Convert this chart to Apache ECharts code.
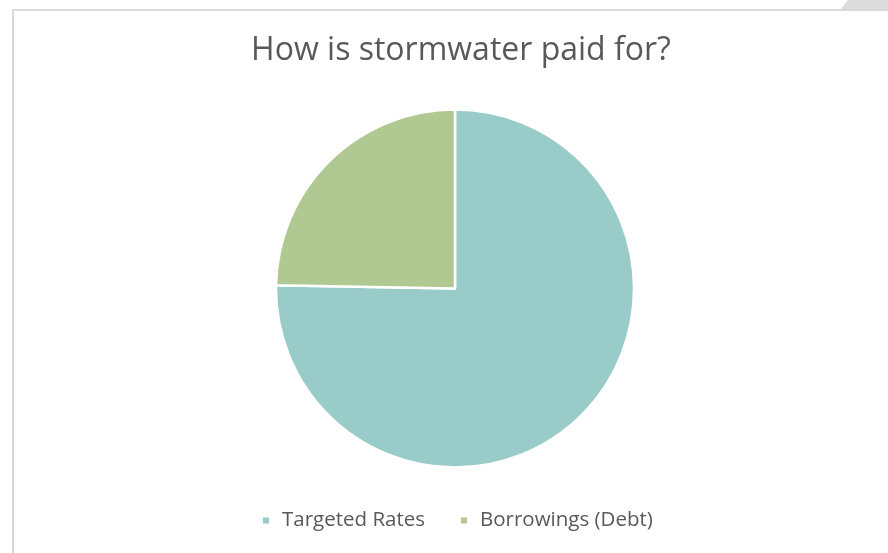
<!DOCTYPE html>
<html>
<head>
<meta charset="utf-8">
<script src="https://cdn.jsdelivr.net/npm/echarts@6/dist/echarts.min.js"></script>
<style>
  html, body { margin: 0; padding: 0; background: #fff; }
  #chart { width: 888px; height: 553px; }
</style>
</head>
<body>
<div id="chart"></div>
<script>
// Funding sources for stormwater (share of total)
const categories = ['Targeted Rates', 'Borrowings (Debt)'];
const shares = [75.3, 24.7];
const colors = ['#99CCC8', '#B0C891'];

const chart = echarts.init(document.getElementById('chart'), null, { renderer: 'canvas' });

chart.setOption({
  backgroundColor: '#ffffff',
  animation: false,
  title: {
    text: 'How is stormwater paid for?',
    left: 456,
    top: 30,
    textAlign: 'center',
    textStyle: {
      fontFamily: 'Open Sans',
      fontWeight: 'normal',
      fontSize: 32,
      color: '#595959'
    }
  },
  legend: {
    data: categories,
    top: 510,
    left: 261,
    padding: 0,
    itemWidth: 8,
    itemHeight: 8,
    itemGap: 34,
    icon: 'rect',
    textStyle: {
      fontFamily: 'Open Sans',
      fontSize: 20.5,
      color: '#595959',
      padding: [0, 0, 0, 7]
    }
  },
  graphic: [
    // chart frame edges
    { type: 'rect', shape: { x: 12, y: 9, width: 880, height: 2 }, style: { fill: '#d9d9d9' }, silent: true },
    { type: 'rect', shape: { x: 12, y: 9, width: 2, height: 560 }, style: { fill: '#d9d9d9' }, silent: true },
    // folded corner at top right
    { type: 'polygon', shape: { points: [[841, 9], [848, 0], [888, 0], [888, 9]] }, style: { fill: '#dcdcdc' }, silent: true }
  ],
  series: [{
    type: 'pie',
    center: [455, 288.5],
    radius: [0, 179],
    startAngle: 90,
    clockwise: true,
    label: { show: false },
    labelLine: { show: false },
    emphasis: { disabled: true },
    itemStyle: { borderColor: '#ffffff', borderWidth: 2.5 },
    data: categories.map((name, i) => ({
      name: name,
      value: shares[i],
      itemStyle: { color: colors[i] }
    }))
  }]
});
</script>
</body>
</html>
